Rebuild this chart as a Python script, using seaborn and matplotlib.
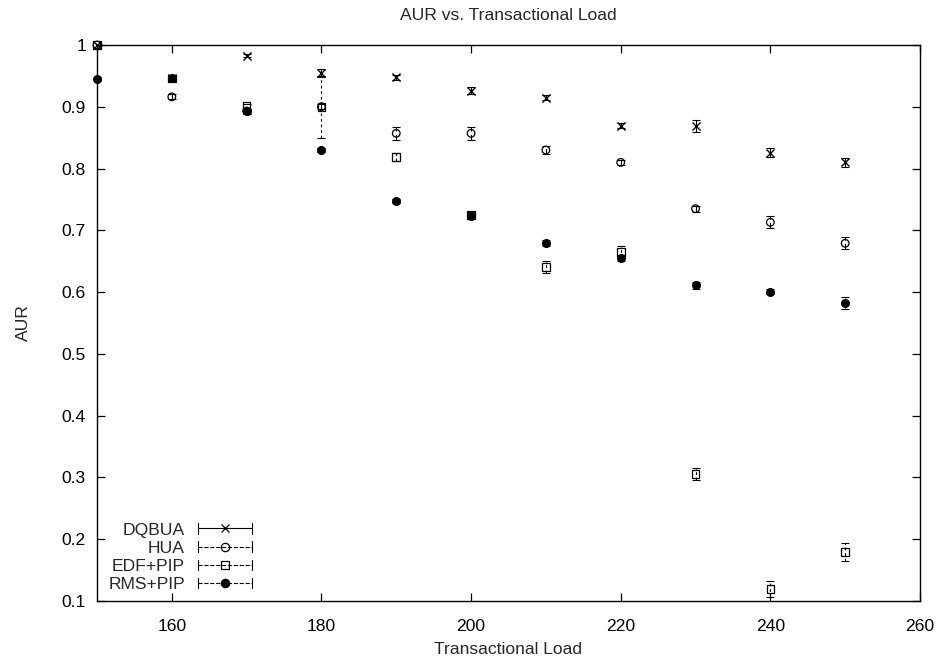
import matplotlib
matplotlib.use("Agg")
import matplotlib.pyplot as plt
from matplotlib.lines import Line2D
from matplotlib.legend_handler import HandlerBase
import seaborn as sns

# Transactional load levels and the AUR measured for each scheduler
loads = [150, 160, 170, 180, 190, 200, 210, 220, 230, 240, 250]

dqbua = [1.000, 0.946, 0.983, 0.955, 0.948, 0.926, 0.915, 0.869, 0.869, 0.826, 0.810]
dqbua_err = [0.002, 0.004, 0.003, 0.006, 0.004, 0.006, 0.004, 0.004, 0.010, 0.008, 0.007]

hua = [1.000, 0.916, 0.893, 0.900, 0.857, 0.857, 0.830, 0.810, 0.735, 0.713, 0.679]
hua_err = [0.002, 0.004, 0.004, 0.004, 0.010, 0.010, 0.006, 0.004, 0.005, 0.010, 0.010]

edf = [1.000, 0.946, 0.901, 0.900, 0.819, 0.725, 0.641, 0.665, 0.306, 0.119, 0.179]
edf_err = [0.002, 0.004, 0.004, 0.050, 0.006, 0.005, 0.010, 0.010, 0.010, 0.013, 0.015]

rms = [0.945, 0.946, 0.893, 0.830, 0.748, 0.723, 0.679, 0.655, 0.611, 0.601, 0.582]
rms_err = [0.003, 0.003, 0.004, 0.003, 0.003, 0.004, 0.005, 0.005, 0.006, 0.004, 0.010]

labels = ["DQBUA", "HUA", "EDF+PIP", "RMS+PIP"]
x_ticks = [160, 180, 200, 220, 240, 260]
y_ticks = [0.1, 0.2, 0.3, 0.4, 0.5, 0.6, 0.7, 0.8, 0.9, 1.0]
y_tick_labels = ["0.1", "0.2", "0.3", "0.4", "0.5", "0.6", "0.7", "0.8", "0.9", "1"]

sns.set_style("ticks")
plt.rcParams["font.family"] = ["Liberation Sans", "DejaVu Sans"]
FS = 12.6

fig = plt.figure(figsize=(9.38, 6.58), dpi=100)
ax = fig.add_axes([0.1034, 0.0866, 0.9808 - 0.1034, 0.9316 - 0.0866])

styles = [
    dict(y=dqbua, err=dqbua_err, ls="-", marker="x", filled=True, size=34),
    dict(y=hua, err=hua_err, ls=(0, (5, 3)), marker="o", filled=False, size=30),
    dict(y=edf, err=edf_err, ls=(0, (2.5, 2.5)), marker="s", filled=False, size=30),
    dict(y=rms, err=rms_err, ls=(0, (1, 1.5)), marker="o", filled=True, size=32),
]

for st in styles:
    ax.errorbar(loads, st["y"], yerr=st["err"], fmt="none", ecolor="black",
                elinewidth=0.8, capsize=3.2, capthick=0.8, linestyle=st["ls"],
                zorder=2)
    eb = ax.containers[-1]
    for col in eb.lines[2]:
        col.set_linestyle(st["ls"])
    if st["marker"] == "x":
        sns.scatterplot(x=loads, y=st["y"], marker="x", color="black",
                        s=st["size"], linewidth=1.0, ax=ax, zorder=3,
                        clip_on=False)
    elif st["filled"]:
        sns.scatterplot(x=loads, y=st["y"], marker=st["marker"], color="black",
                        edgecolor="black", s=st["size"], linewidth=0.8, ax=ax,
                        zorder=3, clip_on=False)
    else:
        sns.scatterplot(x=loads, y=st["y"], marker=st["marker"], facecolor="none",
                        edgecolor="black", s=st["size"], linewidth=0.9, ax=ax,
                        zorder=3, clip_on=False)


class CappedKeyHandler(HandlerBase):
    """Legend key drawn as a capped horizontal bar with the series marker."""

    def create_artists(self, legend, orig_handle, xdescent, ydescent,
                       width, height, fontsize, trans):
        y = height / 2.0 - ydescent
        x0, x1 = -xdescent, width - xdescent
        cap = 0.3 * fontsize
        bar = Line2D([x0, x1], [y, y], color="black", lw=0.8,
                     linestyle=orig_handle.get_linestyle())
        left = Line2D([x0, x0], [y - cap, y + cap], color="black", lw=0.8)
        right = Line2D([x1, x1], [y - cap, y + cap], color="black", lw=0.8)
        mk = Line2D([(x0 + x1) / 2.0], [y], linestyle="none",
                    marker=orig_handle.get_marker(),
                    markersize=orig_handle.get_markersize(),
                    markerfacecolor=orig_handle.get_markerfacecolor(),
                    markeredgecolor="black", markeredgewidth=0.9)
        for a in (bar, left, right, mk):
            a.set_transform(trans)
        return [bar, left, right, mk]


proxies = []
for st in styles:
    proxies.append(Line2D([], [], color="black", linestyle=st["ls"],
                          marker=st["marker"], markersize=6.0,
                          markerfacecolor="black" if st["filled"] else "none"))

ax.legend(proxies, labels, handler_map={Line2D: CappedKeyHandler()},
          loc="lower left", bbox_to_anchor=(0.003, 0.0), frameon=False,
          markerfirst=False, fontsize=FS, handlelength=3.1,
          handletextpad=0.75, labelspacing=0.17, borderaxespad=0.2,
          borderpad=0.3)

ax.set_xlim(150, 260)
ax.set_ylim(0.1, 1.0)
ax.set_xticks(x_ticks)
ax.set_yticks(y_ticks)
ax.set_yticklabels(y_tick_labels)
ax.tick_params(axis="both", which="both", direction="in", length=6, width=0.9,
               top=True, right=True, labelsize=FS, colors="black")
ax.tick_params(axis="x", pad=13)
ax.tick_params(axis="y", pad=8)
for sp in ax.spines.values():
    sp.set_visible(True)
    sp.set_linewidth(1.0)
    sp.set_color("black")

ax.set_title("AUR vs. Transactional Load", fontsize=FS, pad=18)
ax.set_xlabel("Transactional Load", fontsize=FS, labelpad=6)
ax.set_ylabel("AUR", fontsize=FS, labelpad=22)

fig.savefig("out.png", dpi=100)
